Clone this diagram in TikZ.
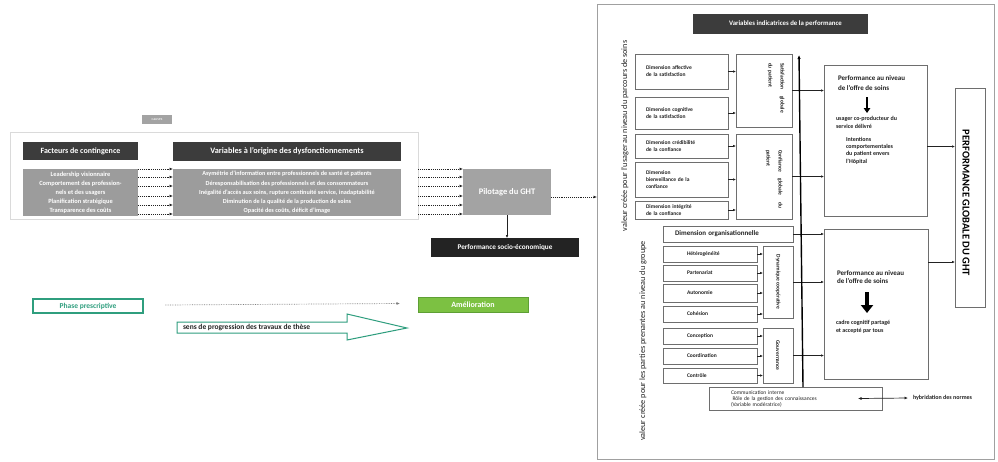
\documentclass[tikz,border=0pt]{standalone}
\usepackage{fontspec}
\setmainfont{Carlito}
\usetikzlibrary{arrows.meta,calc}
\definecolor{darkhdr}{HTML}{3C3C3C}
\definecolor{midgray}{HTML}{9C9C9C}
\definecolor{pilgray}{HTML}{A3A3A3}
\definecolor{nearblack}{HTML}{232323}
\definecolor{lightline}{HTML}{DADADA}
\definecolor{panelline}{HTML}{A0A0A0}
\definecolor{boxgray}{HTML}{6E6E6E}
\definecolor{tealc}{HTML}{2F9E7E}
\definecolor{greenf}{HTML}{7CC142}
\definecolor{greend}{HTML}{5E9F35}
\definecolor{txt}{HTML}{222222}
\newcommand\fsz[2]{\fontsize{#1}{#2}\selectfont}
\begin{document}
\begin{tikzpicture}[x=1pt,y=-1pt,
  box/.style={anchor=north west, inner sep=0pt, outer sep=0pt},
  rbox/.style={box, draw=boxgray, line width=0.6pt},
  dimtxt/.style={font=\fsz{5.5}{7}\bfseries, text=txt},
  dotarr/.style={densely dotted, line width=0.9pt, draw=txt, -{Latex[length=3.5pt,width=3pt]}},
  arr/.style={line width=0.6pt, draw=txt, -{Latex[length=3pt,width=2.6pt]}},
  freetxt/.style={inner sep=0pt, outer sep=0pt, text=txt}]
\useasboundingbox (0,0) rectangle (998,461);
\fill[white] (0,0) rectangle (998,461);

% ---------------- left part ----------------
\node[box, fill=pilgray, minimum width=30pt, minimum height=9pt, text=white, font=\fsz{4}{5}] (causes) at (142,115) {causes};
\node[box, draw=lightline, line width=0.8pt, minimum width=408pt, minimum height=87pt] (outer) at (10,132) {};
\node[box, fill=darkhdr, minimum width=115pt, minimum height=18pt, text=white, font=\fsz{8}{9}\bfseries] (fc) at (23,142) {Facteurs de contingence};
\node[box, fill=darkhdr, minimum width=228pt, minimum height=19pt, text=white, font=\fsz{8.3}{9}\bfseries] (vo) at (173,142) {Variables à l'origine des dysfonctionnements};
\node[box, fill=midgray, minimum width=115pt, minimum height=47pt, text=white, align=center, font=\fsz{6.4}{9.1}\bfseries] (gl) at (23,169) {Leadership visionnaire\\Comportement des profession-\\nels et des usagers\\Planification stratégique\\Transparence des coûts};
\node[box, fill=midgray, minimum width=228pt, minimum height=47pt, text=white, align=center, font=\fsz{6.2}{9.2}\bfseries] (gr) at (173,169) {Asymétrie d'information entre professionnels de santé et patients\\Déresponsabilisation des professionnels et des consommateurs\\Inégalité d'accès aux soins, rupture continuité service, inadaptabilité\\Diminution de la qualité de la production de soins\\Opacité des coûts, déficit d'image};
\node[box, fill=pilgray, minimum width=88pt, minimum height=46pt, text=white, font=\fsz{8.5}{10}\bfseries] (pil) at (463,169) {Pilotage du GHT};
\node[box, fill=nearblack, minimum width=148pt, minimum height=19pt, text=white, font=\fsz{7.2}{8}\bfseries] (pse) at (431,238) {Performance socio-économique};

\foreach \d in {0,8,17,27,36,45}{
  \draw[dotarr] ([yshift=-\d pt]gl.north east) -- ([yshift=-\d pt]gr.north west);
  \draw[dotarr] ($([yshift=-\d pt]pil.north west)+(-45,0)$) -- ([yshift=-\d pt]pil.north west);
}
\draw[arr, line width=0.5pt] (pil.south) -- (pil.south |- pse.north);

\node[box, draw=tealc, line width=1.1pt, minimum width=110pt, minimum height=14pt, text=tealc, font=\fsz{7.5}{9}\bfseries] (phase) at (33,299) {Phase prescriptive};
\node[box, fill=greenf, draw=greend, line width=0.8pt, minimum width=110pt, minimum height=15pt, text=white, font=\fsz{8}{9}\bfseries] (amel) at (418,297) {Amélioration};
\draw[dotarr, draw=gray, line width=0.7pt] ([xshift=22pt,yshift=1pt]phase.east) -- ([xshift=-18pt,yshift=1pt]amel.west);
\draw[tealc, line width=1pt, fill=white] (177,322) -- (347,322) -- (347,314) -- (407,328) -- (347,340) -- (347,333) -- (177,333) -- cycle;
\node[freetxt, anchor=west, font=\fsz{7.5}{9}\bfseries] (sens) at (183,327.5) {sens de progression des travaux de thèse};

% ---------------- right panel ----------------
\node[box, draw=panelline, line width=0.8pt, minimum width=397pt, minimum height=455pt] (panel) at (597,4) {};
\coordinate (pa) at ([yshift=-5pt]pil.east);
\draw[dotarr] (pa) -- (pa -| panel.west);
\node[box, fill=darkhdr, minimum width=175pt, minimum height=20pt, text=white, font=\fsz{6.8}{8}\bfseries] (vit) at (693,14) {\hspace{10pt}Variables indicatrices de la performance};

\node[freetxt, rotate=90, font=\fsz{8.2}{9}] (v1) at (625,136) {valeur créée pour l'usager au niveau du parcours de soins};
\node[freetxt, rotate=90, font=\fsz{8.2}{9}] (v2) at (643,341) {valeur créée pour les parties prenantes au niveau du groupe};

\node[rbox, minimum width=93pt, minimum height=35pt, text width=71pt, align=left, dimtxt] (da) at (635,54) {Dimension affective\\de la satisfaction};
\node[rbox, minimum width=93pt, minimum height=32pt, text width=71pt, align=left, dimtxt] (dc) at (635,97) {Dimension cognitive\\de la satisfaction};
\node[rbox, minimum width=93pt, minimum height=24pt, text width=71pt, align=left, dimtxt] (dcr) at (635,134) {Dimension crédibilité\\de la confiance};
\node[rbox, minimum width=93pt, minimum height=35pt, text width=71pt, align=left, dimtxt] (db) at (635,162) {Dimension\\bienveillance de la\\confiance};
\node[rbox, minimum width=93pt, minimum height=18pt, text width=71pt, align=left, dimtxt] (di) at (635,201) {Dimension intégrité\\de la confiance};

\node[rbox, minimum width=56pt, minimum height=73pt] (sat) at (736,54) {};
\node[freetxt, rotate=-90, text width=50pt, align=left, font=\fsz{5.5}{12}\bfseries] (satt) at (776,88) {Satisfaction\hfill globale\\du patient};
\node[rbox, minimum width=56pt, minimum height=85pt] (conf) at (736,134) {};
\node[freetxt, rotate=-90, text width=58pt, align=left, font=\fsz{5.5}{12}\bfseries] (conft) at (774,179) {Confiance\hfill globale\hfill du\\patient};

\foreach \b in {da,dc}{\draw[arr] (\b.east) -- (\b.east -| sat.west);}
\foreach \b in {dcr,db,di}{\draw[arr] (\b.east) -- (\b.east -| conf.west);}

\node[rbox, minimum width=103pt, minimum height=151pt] (p1) at (824,65) {};
\node[freetxt, anchor=north west, align=left, font=\fsz{7}{10}\bfseries] (p1a) at (838,76) {Performance au niveau\\de l'offre de soins};
\draw[line width=2.2pt, -{Triangle[length=5pt,width=6.5pt]}] (867,97) -- (867,113);
\node[freetxt, anchor=north west, align=left, font=\fsz{6}{8}\bfseries] (p1b) at (836,116) {usager co-producteur du\\service délivré};
\node[freetxt, anchor=north west, align=left, font=\fsz{6}{7.3}\bfseries] (p1c) at (846,137) {Intentions\\comportementales\\du patient envers\\l'Hôpital};

\draw[arr] (sat.east) -- (sat.east -| p1.west);
\draw[arr] (conf.east) -- (conf.east -| p1.west);

\node[rbox, minimum width=30pt, minimum height=219pt] (pg) at (955,88) {};
\node[freetxt, rotate=-90, font=\fsz{10.5}{12}\bfseries, text=black] (pgt) at (966,203) {PERFORMANCE GLOBALE DU GHT};

\node[rbox, minimum width=104pt, minimum height=150pt] (p2) at (824,229) {};
\node[freetxt, anchor=north west, align=left, font=\fsz{7}{7.5}\bfseries] (p2a) at (837,271) {Performance au niveau\\de l'offre de soins};
\draw[line width=4.5pt, -{Triangle[length=8pt,width=12pt]}] (867,292) -- (867,313);
\node[freetxt, anchor=north west, align=left, font=\fsz{6}{8}\bfseries] (p2b) at (836,320) {cadre cognitif partagé\\et accepté par tous};

\draw[arr] ([yshift=-6pt]p1.east) -- ([yshift=-6pt]p1.east -| pg.west);
\draw[arr] ([yshift=42pt]p2.east) -- ([yshift=42pt]p2.east -| pg.west);

\node[rbox, minimum width=130pt, minimum height=16pt, text width=106pt, align=left, font=\fsz{7}{8}\bfseries, text=txt] (dorg) at (663,226) {Dimension organisationnelle};
\node[rbox, minimum width=94pt, minimum height=16pt, text width=46pt, align=left, dimtxt] (het) at (663,246) {Hétérogénéité};
\node[rbox, minimum width=94pt, minimum height=16pt, text width=46pt, align=left, dimtxt] (par) at (663,265) {\raisebox{-2pt}{Partenariat}};
\node[rbox, minimum width=94pt, minimum height=18pt, text width=46pt, align=left, dimtxt] (aut) at (663,284) {\raisebox{-3pt}{Autonomie}};
\node[rbox, minimum width=94pt, minimum height=16pt, text width=46pt, align=left, dimtxt] (coh) at (663,306) {\raisebox{-2pt}{Cohésion}};
\node[rbox, minimum width=94pt, minimum height=16pt, text width=46pt, align=left, dimtxt] (con) at (663,328) {Conception};
\node[rbox, minimum width=94pt, minimum height=16pt, text width=46pt, align=left, dimtxt] (coo) at (663,348) {Coordination};
\node[rbox, minimum width=94pt, minimum height=15pt, text width=46pt, align=left, dimtxt] (ctr) at (663,368) {Contrôle};

\node[rbox, minimum width=30pt, minimum height=72pt] (dyn) at (763,246) {};
\node[freetxt, rotate=-90, font=\fsz{5.5}{7}\bfseries] (dynt) at (dyn.center) {Dynamique coopérative};
\node[rbox, minimum width=30pt, minimum height=55pt] (gov) at (763,328) {};
\node[freetxt, rotate=-90, font=\fsz{5.5}{7}\bfseries] (govt) at (gov.center) {Gouvernance};

\foreach \b in {het,par,aut,coh}{\draw[arr] (\b.east) -- (\b.east -| dyn.west);}
\foreach \b in {con,coo,ctr}{\draw[arr] (\b.east) -- (\b.east -| gov.west);}

\draw[arr] (dorg.east) -- (dorg.east -| p2.west);
\draw[arr] (dyn.east) -- (dyn.east -| p2.west);
\draw[arr] (gov.east) -- (gov.east -| p2.west);

\node[rbox, minimum width=173pt, minimum height=23pt, text width=129pt, align=left, font=\fsz{5.5}{6}, text=txt] (comm) at (709,387) {Communication interne\\\hspace{1.5pt}Rôle de la gestion des connaissances\\(Variable modératrice)};
\node[freetxt, anchor=west, font=\fsz{6}{7}\bfseries] (hyb) at (913,398) {hybridation des normes};
\draw[line width=0.7pt, draw=txt, {Latex[length=3.5pt,width=3pt]}-{Latex[length=3.5pt,width=3pt]}] ([xshift=-24pt]comm.east) -- ([xshift=-5pt]hyb.west);

\coordinate (vtop) at (799,55);
\coordinate (vbot) at ($(comm.north west)+(94,0)$);
\draw[line width=1.4pt, draw=black, -{Latex[length=4pt,width=3.5pt]}] (vbot) -- (vtop);
\end{tikzpicture}
\end{document}
